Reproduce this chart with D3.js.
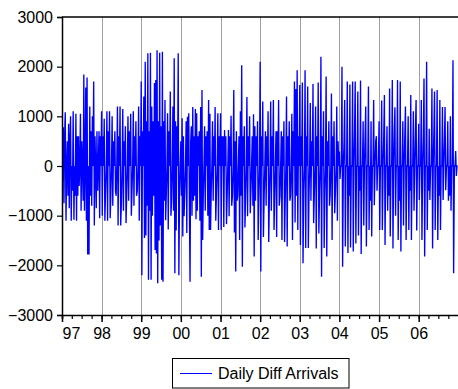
<!DOCTYPE html>
<html><head><meta charset="utf-8">
<script src="https://cdn.jsdelivr.net/npm/d3@7"></script>
<style>
html,body{margin:0;padding:0;background:#fff;}
svg{display:block;font-family:Arial,"Liberation Sans",sans-serif;}
</style></head>
<body><svg id="c" width="458" height="389"></svg>
<script>
// Year labels and y ticks
const yearLabels = ["97","98","99","00","01","02","03","04","05","06"];
const yTicks = [-3000,-2000,-1000,0,1000,2000,3000];
const seriesName = "Daily Diff Arrivals";

// Values, 60 samples per year (1997 .. 2006)
const v1997 = [200,-300,780,-750, 600,1080,-1100,0, 500,-600,850,-850, 500,1000,-1100,0, -500,1100,-1080,0, -600,1050,-1100,600, -600,600,-400,0, 1050,-900,500,0, -700,1840,-900,0, 1580,-1100,1780,-1780, 0,-1780,1200,-600, 700,-800,1000,0, 1700,-1200,600,0, -850,700,-500,0, 700,-1050,600,0];
const v1998 = [1100,-1000,600,0, 950,-1100,-500,0, 1100,-1100,700,0, 1100,-1050,-600,0, 1000,-800,500,0, 700,-500,-600,0, 1200,-1200,600,0, 1200,-1200,-700,0, 1150,-900,500,0, 800,-1150,-600,0, 1000,-700,700,0, 1050,-1000,-500,0, 1100,-800,600,0, 900,-600,-500,0, 1200,-1100,600,0];
const v1999 = [1700,-2200,700,0, 1400,-1450,2100,-1400, 900,-800,2270,-2290, 700,-900,2280,-2290, 1200,-1000,900,-600, 1670,-1690,1730,-1760, 2330,-2360,900,-1500, 2280,-1200,800,-2290, 2300,-2330,900,-700, 1330,-1090,-600,0, 1060,-1280,700,0, 1500,-1000,-700,0, 1200,-900,2170,-2160, 900,-1300,800,0, 2270,-2200,-600,0];
const v2000 = [500,-600,960,-1420, 600,-1010,-500,0, 900,-1350,990,0, 1060,-800,-2330,500, 800,-1000,1190,-700, 600,-600,1150,-1070, 1060,-900,600,0, 700,-1100,1190,-2230, 1530,-1490,-600,0, 800,-900,600,0, 700,-1000,1330,-1290, 1050,-1290,-500,0, 900,-700,600,0, 1190,-1100,-500,0, 1060,-1290,600,0];
const v2001 = [1060,-1290,600,0, 600,-1230,725,0, 600,-1170,-600,0, 725,-1010,600,0, 1010,-800,-600,0, 1530,-1340,500,-2125, 700,-700,-600,0, 600,-1490,1100,-600, 2030,-2030,600,0, 800,-1240,-600,0, 1390,-1010,600,0, 1000,-950,-500,0, 600,-800,1040,-1820, 800,-700,600,0, 900,-1490,-600,0];
const v2002 = [2100,-2125,600,0, 1300,-1430,-600,0, 700,-800,600,0, 1100,-1530,-700,0, 1300,-900,600,0, 1330,-1290,-600,0, 700,-1430,700,0, 1330,-800,-600,0, 700,-1490,600,0, 900,-1530,-700,0, 1400,-1620,600,0, 900,-700,-600,0, 1050,-1490,700,0, 1700,-1140,1550,-600, 1930,-1290,600,0];
const v2003 = [1630,-1590,600,0, 1680,-1960,-500,0, 1930,-1650,600,0, 1600,-1650,-600,0, 1270,-700,500,0, 1650,-1150,-600,0, 1200,-1660,600,0, 1680,-1360,-500,0, 2200,-2230,600,0, 1100,-1650,-600,0, 1800,-1820,500,0, 900,-800,-600,0, 1460,-1490,600,0, 900,-950,-500,0, 1200,-1100,500,0];
const v2004 = [290,-260,0,0, 2000,-2030,0,500, 1330,-1620,0,0, 1700,-1750,0,-600, 1640,-1640,0,0, 1700,-1720,0,700, 1700,-1560,0,0, 1500,-1400,0,-500, 1720,-1770,0,0, 900,-1200,0,600, 1200,-1620,0,0, 1600,-1290,0,-700, 900,-1420,0,0, 1330,-790,0,500, 600,-500,0,0];
const v2005 = [900,-1290,0,0, 1320,-1290,0,600, 1430,-1590,0,0, 800,-900,0,-600, 1560,-1420,0,0, 1730,-1660,0,700, 1180,-1000,0,0, 1730,-1490,0,-700, 1700,-1720,0,0, 900,-1200,0,600, 1200,-1490,0,0, 1000,-1290,0,-500, 1430,-1490,0,0, 1100,-900,0,700, 1330,-1300,0,0];
const v2006 = [850,-685,0,0, 1330,-1490,0,600, 1760,-1820,0,0, 2100,-1290,0,-500, 750,-685,0,0, 1560,-1660,0,700, 1500,-1290,0,0, 1530,-1490,0,-600, 1330,-1290,0,0, 1190,-685,0,500, 1190,-490,0,0, 900,-700,0,-600, 1000,-900,0,0, 2130,-2160,0,0, 300,-200,0,0];

const years = [v1997,v1998,v1999,v2000,v2001,v2002,v2003,v2004,v2005,v2006];
const data = [];
years.forEach((arr, yi) => {
  arr.forEach((val, k) => {
    data.push({t: new Date(1997 + yi, 0, 1 + Math.round(k * 365 / arr.length)), v: val});
  });
});

const svg = d3.select("#c");
const L = 62, T = 17, B = 315, R = 458.3;
const x = d3.scaleTime().domain([new Date(1997,0,1), new Date(2007,0,1)]).range([L, R]);
const y = d3.scaleLinear().domain([-3000, 3000]).range([B, T]);

// vertical year gridlines
const yearDates = d3.range(1998, 2007).map(yr => new Date(yr,0,1));
svg.append("g").selectAll("line").data(yearDates).join("line")
  .attr("x1", d => Math.round(x(d)) + 0.5).attr("x2", d => Math.round(x(d)) + 0.5)
  .attr("y1", T).attr("y2", B)
  .attr("stroke", "#a0a0a0").attr("stroke-width", 1);

// data line
svg.append("clipPath").attr("id","pc").append("rect")
  .attr("x", L).attr("y", T).attr("width", R - L).attr("height", B - T);
svg.append("path").datum(data)
  .attr("clip-path","url(#pc)")
  .attr("fill","none").attr("stroke","#0000ff").attr("stroke-width",1.35)
  .attr("stroke-linejoin","miter").attr("stroke-miterlimit",1.5)
  .attr("d", d3.line().x(d => x(d.t)).y(d => y(d.v)));

// frame: top line
svg.append("line").attr("x1", L).attr("x2", 458).attr("y1", T).attr("y2", T)
  .attr("stroke", "#000").attr("stroke-width", 1.5);

// y axis
const yAxis = d3.axisLeft(y).tickValues(yTicks).tickSize(5).tickPadding(4).tickFormat(d3.format("d"));
const gy = svg.append("g").attr("transform", `translate(${L},0)`).call(yAxis);
gy.select(".domain").attr("stroke","#000").attr("stroke-width",1.5);
gy.selectAll(".tick line").attr("stroke","#000").attr("stroke-width",1.2);
gy.selectAll("text").attr("font-size", 16).attr("fill","#000")
  .attr("font-family","Arial, 'Liberation Sans', sans-serif").attr("x", -9);

// x axis: minor quarter ticks and major year ticks
const quarters = d3.timeMonth.every(3).range(new Date(1997,0,1), new Date(2007,0,1));
const gx = svg.append("g").attr("transform", `translate(0,${B})`);
gx.call(d3.axisBottom(x).tickValues(quarters).tickSize(4).tickFormat(""));
gx.select(".domain").attr("stroke","#000").attr("stroke-width",1.5);
gx.selectAll(".tick line").attr("stroke","#000").attr("stroke-width",1.2);
const gx2 = svg.append("g").attr("transform", `translate(0,${B})`);
const yearTicks = d3.range(1997, 2007).map(yr => new Date(yr,0,1));
gx2.call(d3.axisBottom(x).tickValues(yearTicks).tickSize(7).tickPadding(6)
  .tickFormat((d,i) => yearLabels[i]));
gx2.select(".domain").remove();
gx2.selectAll(".tick line").attr("stroke","#000").attr("stroke-width",1.5);
gx2.selectAll("text").attr("font-size", 16).attr("fill","#000")
  .attr("font-family","Arial, 'Liberation Sans', sans-serif")
  .attr("dx", (d,i) => i === 0 ? 9 : 0);

// legend
const lg = svg.append("g");
lg.append("rect").attr("x", 172.5).attr("y", 358.5).attr("width", 176.5).attr("height", 29.5)
  .attr("fill","#fff").attr("stroke","#000").attr("stroke-width",1);
lg.append("line").attr("x1",180).attr("x2",212).attr("y1",373.5).attr("y2",373.5)
  .attr("stroke","#0000ff").attr("stroke-width",1);
lg.append("text").attr("x",218).attr("y",379).attr("font-size",16).attr("fill","#000")
  .text(seriesName);
</script></body></html>
